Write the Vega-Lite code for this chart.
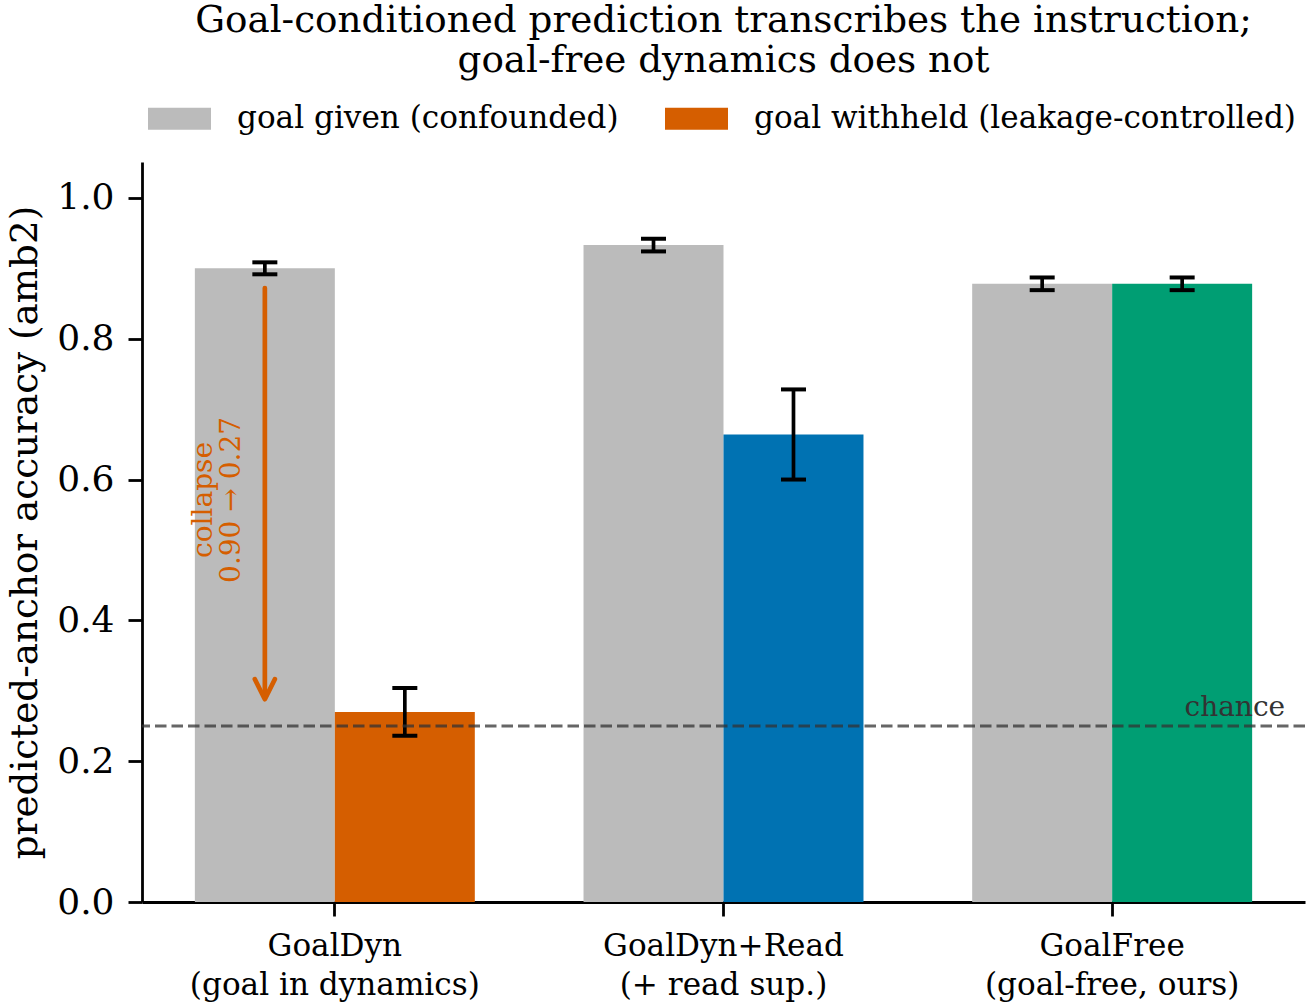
{
  "$schema": "https://vega.github.io/schema/vega-lite/v6.json",
  "width": 1163,
  "height": 740,
  "autosize": {"type": "none"},
  "padding": {"left": 142, "top": 162, "right": 2, "bottom": 100},
  "title": {
    "text": ["Goal-conditioned prediction transcribes the instruction;", "goal-free dynamics does not"],
    "fontSize": 37.3,
    "fontWeight": "normal",
    "font": "DejaVu Serif",
    "lineHeight": 40,
    "anchor": "middle",
    "offset": 7,
    "color": "black"
  },
  "config": {
    "font": "DejaVu Serif",
    "view": {"stroke": null},
    "axis": {
      "domainColor": "black",
      "domainWidth": 2.8,
      "tickColor": "black",
      "tickWidth": 2.8,
      "tickSize": 14,
      "labelColor": "black",
      "labelFont": "DejaVu Serif",
      "labelFontSize": 31.1,
      "labelLimit": 600,
      "titleFont": "DejaVu Serif",
      "titleFontSize": 37.3,
      "titleFontWeight": "normal",
      "titleColor": "black",
      "grid": false
    }
  },
  "data": {
    "values": [
      {"model": "GoalDyn\n(goal in dynamics)", "cond": "given", "key": "goal given (confounded)", "acc": 0.900, "lo": 0.8915, "hi": 0.9085},
      {"model": "GoalDyn\n(goal in dynamics)", "cond": "withheld", "key": "goal withheld (leakage-controlled)", "acc": 0.270, "lo": 0.236, "hi": 0.304},
      {"model": "GoalDyn+Read\n(+ read sup.)", "cond": "given", "key": "goal given (confounded)", "acc": 0.933, "lo": 0.924, "hi": 0.942},
      {"model": "GoalDyn+Read\n(+ read sup.)", "cond": "withheld", "key": "GoalDyn+Read, goal withheld", "acc": 0.664, "lo": 0.600, "hi": 0.728},
      {"model": "GoalFree\n(goal-free, ours)", "cond": "given", "key": "goal given (confounded)", "acc": 0.878, "lo": 0.869, "hi": 0.887},
      {"model": "GoalFree\n(goal-free, ours)", "cond": "withheld", "key": "GoalFree, goal withheld", "acc": 0.878, "lo": 0.869, "hi": 0.887}
    ]
  },
  "layer": [
    {
      "mark": {"type": "bar"},
      "encoding": {
        "x": {
          "field": "model", "type": "nominal", "sort": null, "title": null,
          "scale": {"paddingInner": 0.2797, "paddingOuter": 0.136},
          "axis": {"labelAngle": 0, "labelExpr": "split(datum.label, '\\n')", "labelLineHeight": 39, "labelPadding": 14}
        },
        "xOffset": {"field": "cond", "type": "nominal", "sort": ["given", "withheld"], "scale": {"paddingInner": 0, "paddingOuter": 0}},
        "y": {
          "field": "acc", "type": "quantitative", "title": "predicted-anchor accuracy (amb2)",
          "scale": {"domain": [0, 1.051], "nice": false},
          "axis": {"values": [0, 0.2, 0.4, 0.6, 0.8, 1.0], "format": ".1f", "labelFontSize": 36, "labelPadding": 14, "titlePadding": 12}
        },
        "color": {
          "field": "key", "type": "nominal",
          "scale": {
            "domain": ["goal given (confounded)", "goal withheld (leakage-controlled)", "GoalDyn+Read, goal withheld", "GoalFree, goal withheld"],
            "range": ["#bbbbbb", "#d55e00", "#0072b2", "#009e73"]
          },
          "legend": {
            "values": ["goal given (confounded)", "goal withheld (leakage-controlled)"],
            "orient": "none",
            "legendX": 6,
            "legendY": -75,
            "direction": "horizontal",
            "title": null,
            "symbolType": "M-1,-0.35H1V0.35H-1Z",
            "symbolSize": 3969,
            "symbolStrokeWidth": 0,
            "symbolOpacity": 1,
            "labelFont": "DejaVu Serif",
            "labelFontSize": 31.1,
            "labelColor": "black",
            "labelOffset": 26,
            "columnPadding": 46,
            "labelLimit": 800
          }
        }
      }
    },
    {
      "mark": {"type": "rule", "color": "black", "strokeWidth": 3.7},
      "encoding": {
        "x": {"field": "model", "type": "nominal", "sort": null, "title": null},
        "xOffset": {"field": "cond", "type": "nominal", "sort": ["given", "withheld"]},
        "y": {"field": "lo", "type": "quantitative", "title": "predicted-anchor accuracy (amb2)"},
        "y2": {"field": "hi"}
      }
    },
    {
      "mark": {"type": "tick", "orient": "horizontal", "color": "black", "size": 25, "thickness": 4, "opacity": 1},
      "encoding": {
        "x": {"field": "model", "type": "nominal", "sort": null, "title": null},
        "xOffset": {"field": "cond", "type": "nominal", "sort": ["given", "withheld"]},
        "y": {"field": "lo", "type": "quantitative", "title": "predicted-anchor accuracy (amb2)"}
      }
    },
    {
      "mark": {"type": "tick", "orient": "horizontal", "color": "black", "size": 25, "thickness": 4, "opacity": 1},
      "encoding": {
        "x": {"field": "model", "type": "nominal", "sort": null, "title": null},
        "xOffset": {"field": "cond", "type": "nominal", "sort": ["given", "withheld"]},
        "y": {"field": "hi", "type": "quantitative", "title": "predicted-anchor accuracy (amb2)"}
      }
    },
    {
      "data": {"values": [{"chance": 0.25}]},
      "mark": {"type": "rule", "color": "#333333", "opacity": 0.75, "strokeWidth": 3.1, "strokeDash": [11.5, 5]},
      "encoding": {
        "y": {"field": "chance", "type": "quantitative", "title": "predicted-anchor accuracy (amb2)"}
      }
    },
    {
      "data": {"values": [{"chance": 0.25}]},
      "mark": {"type": "text", "text": "chance", "align": "right", "baseline": "alphabetic", "fontSize": 28, "color": "#333333", "dx": 103, "dy": -10},
      "encoding": {
        "x": {"datum": "GoalFree\n(goal-free, ours)", "type": "nominal"},
        "xOffset": {"datum": "withheld", "type": "nominal"},
        "y": {"field": "chance", "type": "quantitative", "title": "predicted-anchor accuracy (amb2)"}
      }
    },
    {
      "data": {"values": [{"from": 0.872, "to": 0.291}]},
      "mark": {"type": "rule", "color": "#d55e00", "strokeWidth": 4.7, "strokeCap": "round"},
      "encoding": {
        "x": {"datum": "GoalDyn\n(goal in dynamics)", "type": "nominal"},
        "xOffset": {"datum": "given", "type": "nominal"},
        "y": {"field": "from", "type": "quantitative", "title": "predicted-anchor accuracy (amb2)"},
        "y2": {"field": "to"}
      }
    },
    {
      "data": {"values": [{"to": 0.288}]},
      "mark": {"type": "point", "shape": "M-0.5,-1L0,0L0.5,-1", "size": 1600, "filled": false, "stroke": "#d55e00", "strokeWidth": 4.7, "strokeCap": "round", "strokeJoin": "round", "opacity": 1},
      "encoding": {
        "x": {"datum": "GoalDyn\n(goal in dynamics)", "type": "nominal"},
        "xOffset": {"datum": "given", "type": "nominal"},
        "y": {"field": "to", "type": "quantitative", "title": "predicted-anchor accuracy (amb2)"}
      }
    },
    {
      "data": {"values": [{"mid": 0.571}]},
      "mark": {"type": "text", "text": ["collapse", "0.90 → 0.27"], "angle": 270, "align": "center", "baseline": "middle", "lineHeight": 28, "fontSize": 28, "color": "#d55e00", "dy": -61},
      "encoding": {
        "x": {"datum": "GoalDyn\n(goal in dynamics)", "type": "nominal"},
        "xOffset": {"datum": "given", "type": "nominal"},
        "y": {"field": "mid", "type": "quantitative", "title": "predicted-anchor accuracy (amb2)"}
      }
    }
  ]
}
